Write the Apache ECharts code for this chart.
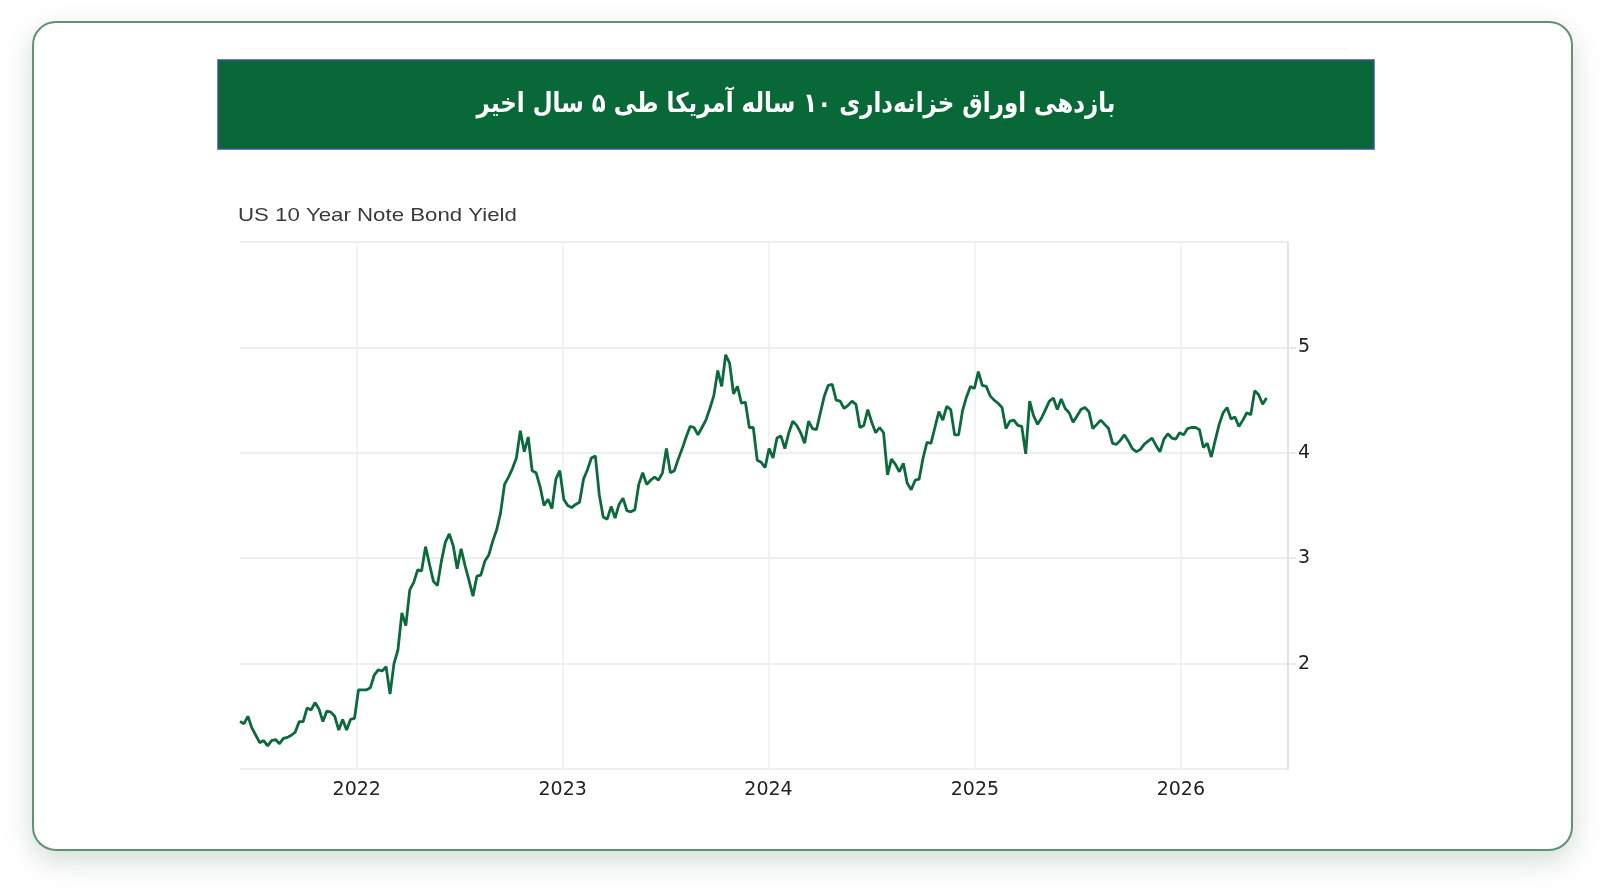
<!DOCTYPE html>
<html>
<head>
<meta charset="utf-8">
<script src="https://cdn.jsdelivr.net/npm/echarts@6/dist/echarts.min.js"></script>
<style>
  html, body { margin: 0; padding: 0; background: #fff; }
  #card {
    position: absolute; left: 32px; top: 21px; width: 1541px; height: 830px;
    box-sizing: border-box; border: 2px solid #5f9473; border-radius: 24px;
    background: #fff; box-shadow: 0 10px 28px rgba(50, 100, 70, 0.22);
  }
  #chart { position: absolute; left: 0; top: 0; width: 1600px; height: 894px; }
</style>
</head>
<body>
<div id="card"></div>
<div id="chart"></div>
<script>
// weekly closes, first one on startDate
var startDate = '2021-06-08'
var yieldsPart1 = [1.45, 1.43, 1.50, 1.39, 1.32, 1.25, 1.27, 1.22, 1.27, 1.28, 1.24, 1.29, 1.30, 1.32, 1.35, 1.45, 1.45, 1.58, 1.56, 1.63,
  1.57, 1.45, 1.55, 1.54, 1.50, 1.37, 1.47, 1.37, 1.47, 1.48, 1.75, 1.75, 1.75, 1.77, 1.89, 1.94, 1.93]
var yieldsPart2 = [1.97, 1.71, 2.00, 2.13, 2.48, 2.36, 2.70, 2.77, 2.89, 2.88, 3.11, 2.94, 2.78, 2.74, 2.97, 3.15, 3.23, 3.12, 2.90, 3.09,
  2.93, 2.79, 2.64, 2.83, 2.84, 2.97, 3.03, 3.16, 3.27, 3.43, 3.70, 3.77, 3.85, 3.95, 4.21, 4.01, 4.15, 3.83, 3.81, 3.68,
  3.50, 3.56, 3.47, 3.75, 3.83, 3.56, 3.50, 3.48, 3.51, 3.53, 3.75, 3.84, 3.95, 3.97, 3.60]
var yieldsPart3 = [3.39, 3.37, 3.49, 3.38, 3.51, 3.57, 3.45, 3.44, 3.46, 3.70, 3.81, 3.70, 3.74, 3.77, 3.74, 3.81, 4.04, 3.81, 3.83, 3.94,
  4.04, 4.15, 4.25, 4.24, 4.17, 4.24, 4.31, 4.42, 4.54, 4.78, 4.63, 4.93, 4.85, 4.56, 4.63, 4.47, 4.48, 4.24, 4.24, 3.93,
  3.91, 3.86, 4.04, 3.95, 4.14, 4.16]
var yieldsPart4 = [4.04, 4.19, 4.30, 4.26, 4.19, 4.09, 4.30, 4.23, 4.22, 4.38, 4.54, 4.64, 4.65, 4.50, 4.49, 4.42, 4.45, 4.49, 4.46, 4.24,
  4.26, 4.41, 4.29, 4.19, 4.24, 4.19, 3.79, 3.94, 3.89, 3.82, 3.90, 3.71, 3.65, 3.74, 3.75, 3.95, 4.10, 4.09, 4.24, 4.39,
  4.31, 4.44, 4.41, 4.17, 4.17]
var yieldsPart5 = [4.40, 4.53, 4.63, 4.61, 4.77, 4.64, 4.63, 4.54, 4.50, 4.47, 4.43, 4.23, 4.30, 4.31, 4.26, 4.25, 3.99, 4.49, 4.35, 4.27,
  4.33, 4.41, 4.49, 4.52, 4.41, 4.51, 4.42, 4.38, 4.29, 4.35, 4.41, 4.43, 4.39, 4.23, 4.27, 4.31, 4.27, 4.23, 4.09, 4.08,
  4.12, 4.17, 4.11, 4.04, 4.01, 4.03, 4.08, 4.11, 4.14, 4.07, 4.01, 4.13, 4.18, 4.14, 4.13, 4.19, 4.17, 4.23, 4.24, 4.24,
  4.22, 4.05, 4.09, 3.96, 4.12, 4.27, 4.38, 4.43, 4.32, 4.34, 4.25, 4.31, 4.38, 4.36, 4.59, 4.55, 4.46, 4.52]
var yearTicks = ['2022-01-01', '2023-01-01', '2024-01-01', '2025-01-01', '2026-01-01']
var axisEnd = '2026-07-10'

var titleText = 'بازدهی اوراق خزانه‌داری ۱۰ ساله آمریکا طی ۵ سال اخیر'
var subTitle = 'US 10 Year Note Bond Yield'

var DAY = 24 * 3600 * 1000
var yields = [].concat(yieldsPart1, yieldsPart2, yieldsPart3, yieldsPart4, yieldsPart5)
var t0 = +new Date(startDate + 'T00:00:00')
var points = yields.map(function (v, i) { return [t0 + i * 7 * DAY, v] })
var tickTimes = yearTicks.map(function (d) { return +new Date(d + 'T00:00:00') })

var chart = echarts.init(document.getElementById('chart'))
chart.setOption({
  animation: false,
  backgroundColor: 'transparent',
  grid: { left: 240, right: 312, top: 242, bottom: 125 },
  graphic: [
    // faint rule above the banner
    { type: 'line', shape: { x1: 240, y1: 49, x2: 1349, y2: 49 }, style: { stroke: '#f0f0f0', lineWidth: 1 } },
    {
      type: 'rect', shape: { x: 218, y: 60, width: 1156, height: 89 },
      style: { fill: '#086837', stroke: '#3d5296', lineWidth: 1.5 }
    },
    {
      // condensed bold title
      type: 'text', x: 796, y: 105, scaleX: 0.85,
      style: {
        text: titleText, fill: '#fff', fontFamily: 'DejaVu Sans', fontWeight: 'bold', fontSize: 27,
        align: 'center', verticalAlign: 'middle'
      }
    },
    {
      type: 'text', x: 238, y: 216, scaleX: 1.17,
      style: { text: subTitle, fill: '#3a3a3a', fontFamily: 'Liberation Sans', fontSize: 19, align: 'left', verticalAlign: 'middle' }
    }
  ],
  xAxis: {
    type: 'value',
    min: t0,
    max: +new Date(axisEnd + 'T00:00:00'),
    axisLine: { show: false },
    axisTick: { show: false, customValues: tickTimes },
    axisLabel: {
      customValues: tickTimes,
      formatter: function (v) { return String(new Date(v).getFullYear()) },
      color: '#222', fontFamily: 'DejaVu Sans', fontSize: 19, margin: 12
    },
    splitLine: { show: true, lineStyle: { color: '#edf0f4', width: 1.5 } }
  },
  yAxis: {
    type: 'value',
    position: 'right',
    min: 1, max: 6, interval: 1,
    axisLine: { show: true, lineStyle: { color: '#e2e2e2', width: 2 } },
    axisTick: { show: true, length: 8, lineStyle: { color: '#e2e2e2', width: 1.5 } },
    axisLabel: {
      showMinLabel: false, showMaxLabel: false,
      color: '#222', fontFamily: 'DejaVu Sans', fontSize: 19, margin: 10, padding: [7, 0, 0, 0]
    },
    splitLine: { show: true, lineStyle: { color: '#e8e8e8', width: 1.5 } }
  },
  series: [{
    name: 'US10Y',
    type: 'line',
    data: points,
    symbol: 'none',
    lineStyle: { color: '#0a6a3a', width: 2.8 }
  }]
})
</script>
</body>
</html>
